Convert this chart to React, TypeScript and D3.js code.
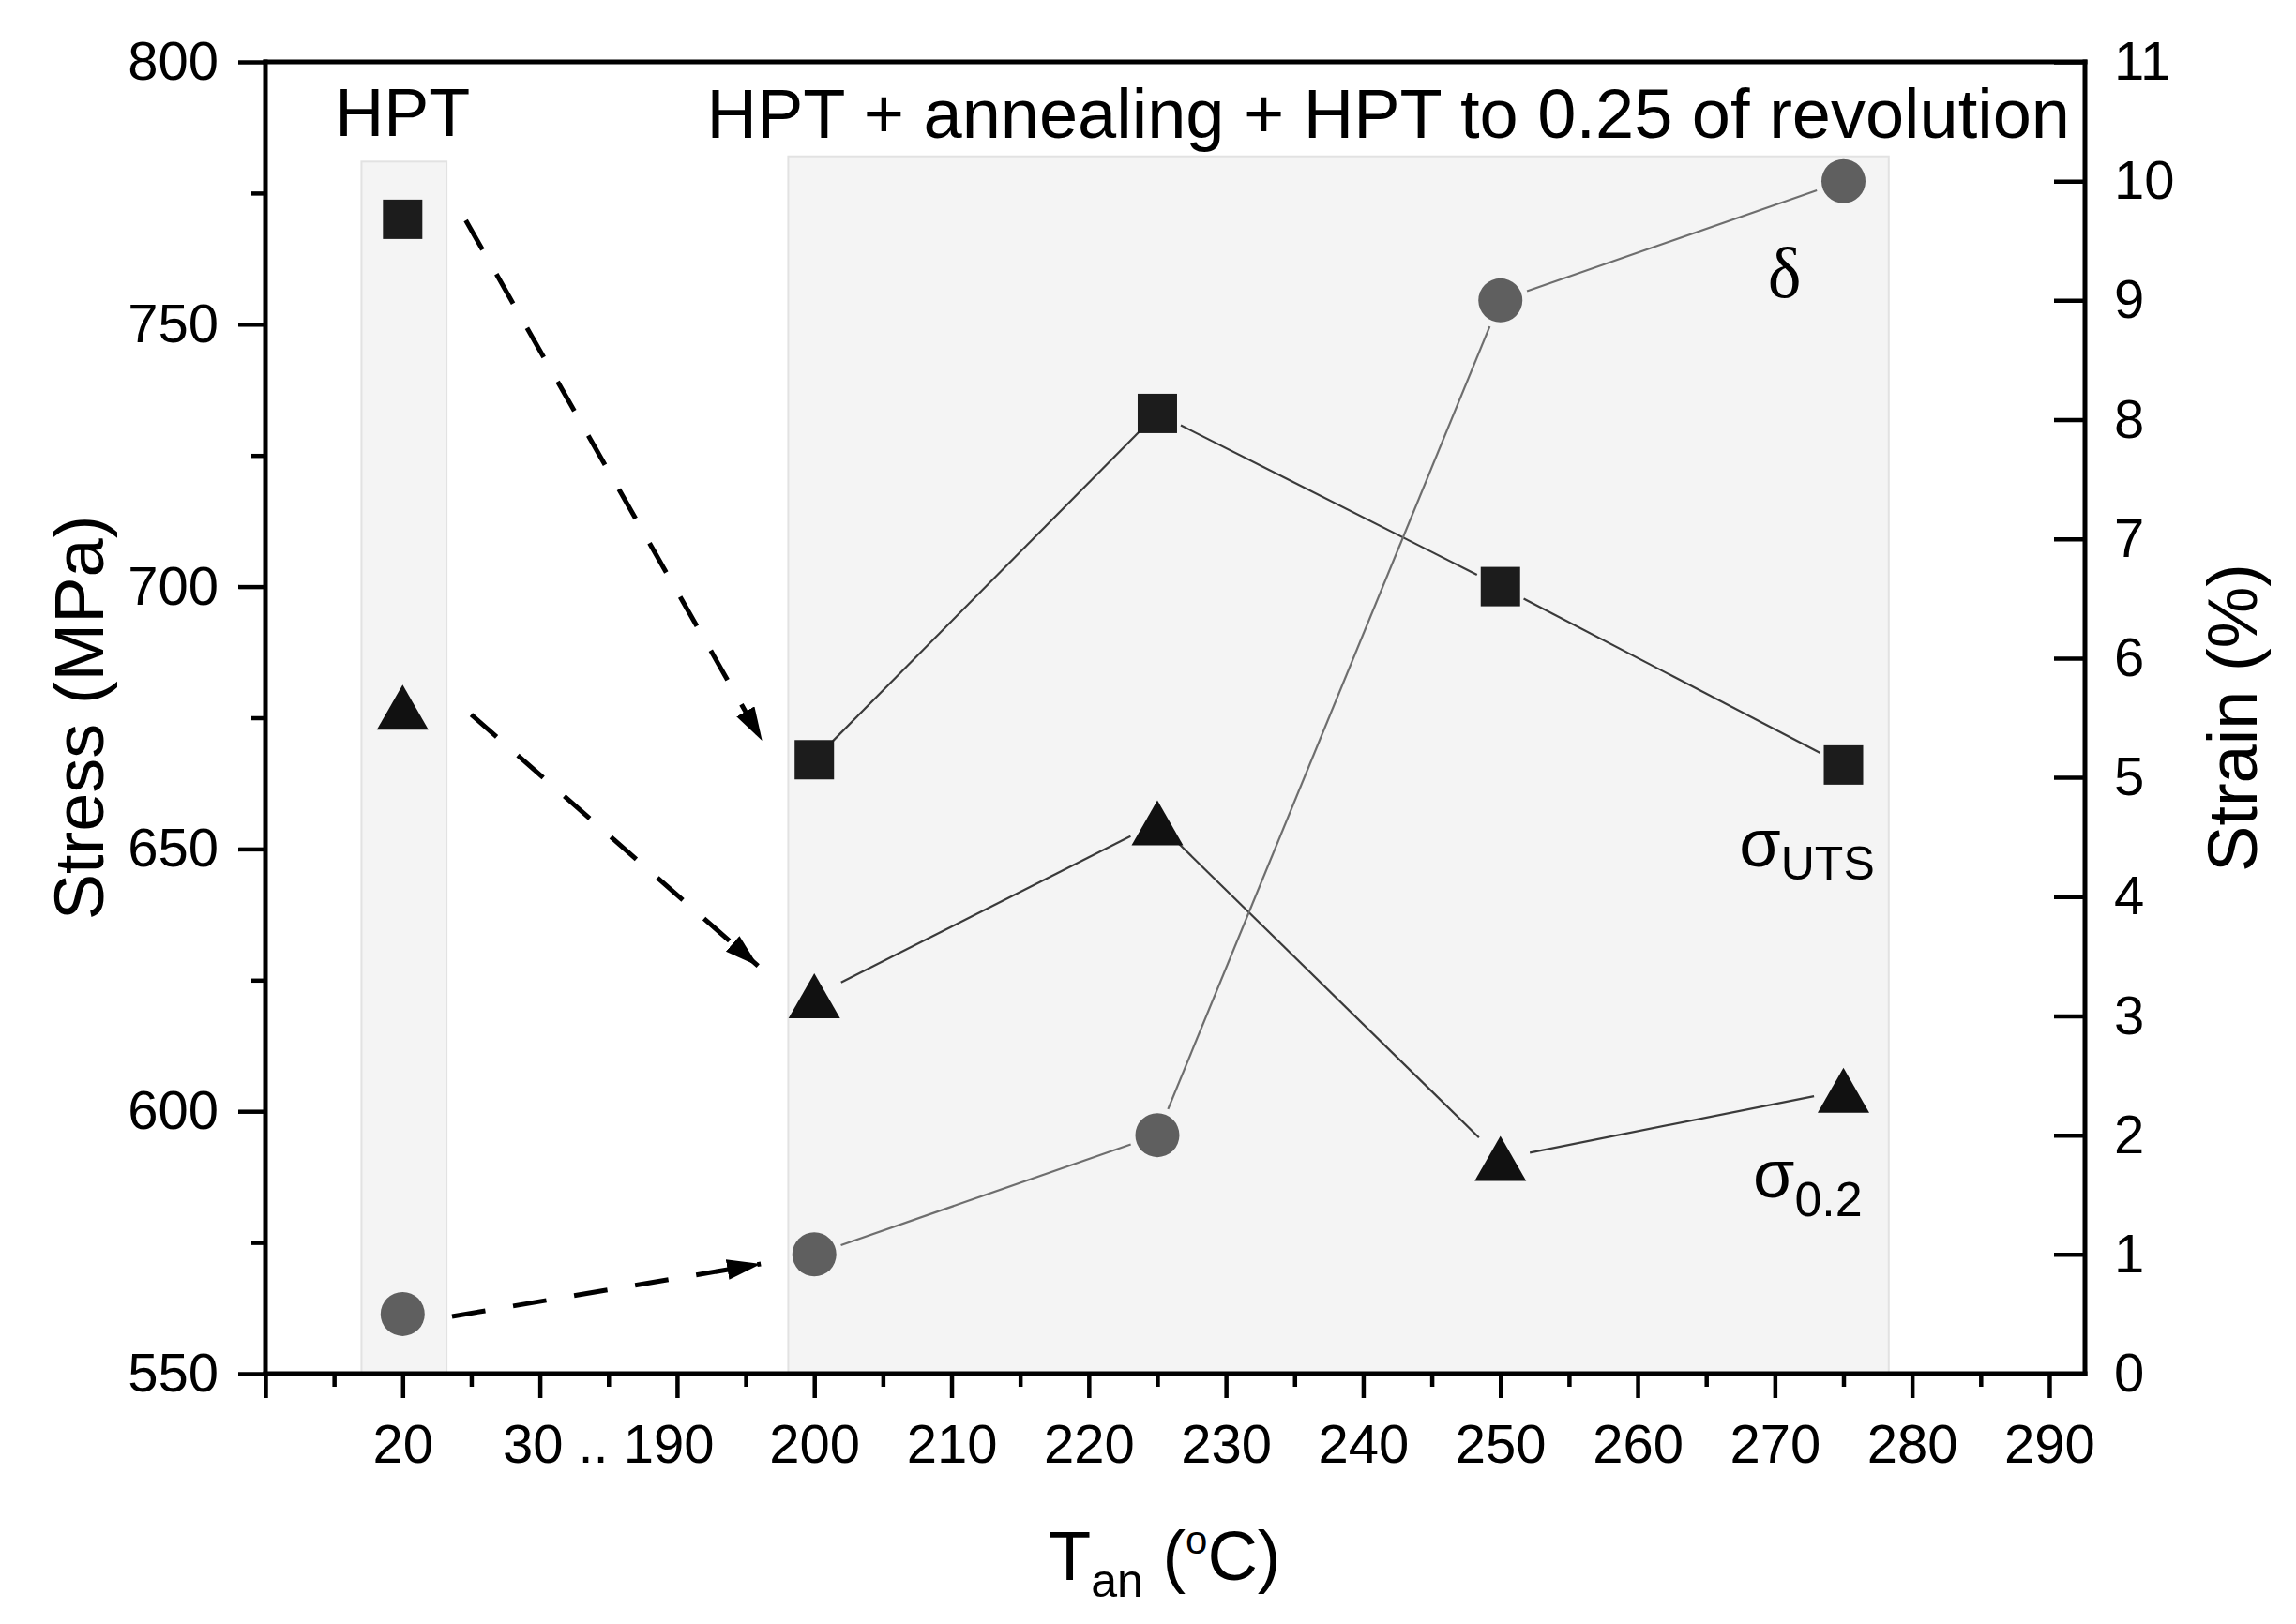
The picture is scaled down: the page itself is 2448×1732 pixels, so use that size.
import { useEffect, useRef } from 'react'
import * as d3 from 'd3'

// annealing temperature; the 30..190 range is collapsed on the axis
const temps = [20, 200, 225, 250, 275]
// sigma_UTS (MPa), squares
const utsValues = [770, 667, 733, 700, 666]
// sigma_0.2 (MPa), triangles
const yieldValues = [677, 622, 655, 591, 604]
// delta, elongation (%), circles
const strainValues = [0.5, 1.0, 2.0, 9.0, 10.0]

const stressTicks = [550, 600, 650, 700, 750, 800]
const stressMinorTicks = [575, 625, 675, 725, 775]
const strainTicks = [0, 1, 2, 3, 4, 5, 6, 7, 8, 9, 10, 11]
const tempTicks = [10, 20, 30, 190, 200, 210, 220, 230, 240, 250, 260, 270, 280, 290]
const tempTickLabels = ['', '20', '', '', '200', '210', '220', '230', '240', '250', '260', '270', '280', '290']
const tempMinorTicks = [15, 25, 110, 195, 205, 215, 225, 235, 245, 255, 265, 275, 285]

// shaded regions (temperature range, top in MPa)
const bands = [
  { t0: 17, t1: 23.2, top: 781 },
  { t0: 198.1, t1: 278.3, top: 782 },
]

// dashed arrows from the HPT state to the annealed state
const arrows = [
  { from: [24.6, 769.8], to: [196.2, 670.6], axis: 'stress' },
  { from: [25.0, 675.6], to: [195.9, 627.7], axis: 'stress' },
  { from: [23.6, 0.48], to: [196.1, 0.92], axis: 'strain' },
]

export default function App() {
  const svgRef = useRef<SVGSVGElement>(null)

  useEffect(() => {
    if (!svgRef.current) return
    const svg = d3.select(svgRef.current)
    svg.selectAll('*').remove()

    const width = 2448
    const height = 1732
    const margin = { top: 66, right: 225, bottom: 267, left: 283 }
    const left = margin.left
    const right = width - margin.right
    const top = margin.top
    const bottom = height - margin.bottom
    const unit = (right - left) / 13.26

    const x = d3.scaleLinear()
      .domain([10, 30, 190, 292.6])
      .range([left, left + 2 * unit, left + 3 * unit, right])
    const yStress = d3.scaleLinear().domain([550, 800]).range([bottom, top])
    const yStrain = d3.scaleLinear().domain([0, 11]).range([bottom, top])

    const font = "'Liberation Sans', Arial, sans-serif"
    const serif = "'Liberation Serif', 'Times New Roman', serif"

    svg.attr('viewBox', `0 0 ${width} ${height}`)

    // shaded regions
    svg.append('g')
      .selectAll('rect')
      .data(bands)
      .join('rect')
      .attr('x', d => x(d.t0))
      .attr('y', d => yStress(d.top))
      .attr('width', d => x(d.t1) - x(d.t0))
      .attr('height', d => bottom - yStress(d.top))
      .attr('fill', '#f4f4f4')
      .attr('stroke', '#e2e2e2')
      .attr('stroke-width', 2)

    const styleAxis = (g: any) => {
      g.select('.domain').remove()
      g.selectAll('line').attr('stroke', '#000').attr('stroke-width', 4.5)
      g.selectAll('text')
        .attr('font-family', font)
        .attr('font-size', 58)
        .attr('fill', '#000')
    }

    // left axis
    svg.append('g')
      .attr('transform', `translate(${left},0)`)
      .call(d3.axisLeft(yStress).tickValues(stressTicks).tickSize(29).tickPadding(21).tickFormat(d3.format('d')))
      .call(styleAxis)
    svg.append('g')
      .attr('transform', `translate(${left},0)`)
      .call(d3.axisLeft(yStress).tickValues(stressMinorTicks).tickSize(15).tickFormat(() => ''))
      .call(styleAxis)

    // bottom axis
    svg.append('g')
      .attr('transform', `translate(0,${bottom})`)
      .call(d3.axisBottom(x).tickValues(tempTicks).tickSize(26).tickPadding(28)
        .tickFormat((_d, i) => tempTickLabels[i]))
      .call(styleAxis)
    svg.append('g')
      .attr('transform', `translate(0,${bottom})`)
      .call(d3.axisBottom(x).tickValues(tempMinorTicks).tickSize(14).tickFormat(() => ''))
      .call(styleAxis)
    svg.append('text')
      .attr('x', x(110))
      .attr('y', bottom + 54)
      .attr('dy', '0.71em')
      .attr('text-anchor', 'middle')
      .attr('font-family', font)
      .attr('font-size', 58)
      .text('30 .. 190')

    // right axis (ticks point inward)
    svg.append('g')
      .attr('transform', `translate(${right},0)`)
      .call(d3.axisRight(yStrain).tickValues(strainTicks).tickSizeInner(-33).tickSizeOuter(0).tickPadding(31))
      .call(styleAxis)

    // frame
    const frame = svg.append('g').attr('stroke', '#000').attr('stroke-width', 5).attr('stroke-linecap', 'square')
    frame.append('line').attr('x1', left).attr('x2', right).attr('y1', top).attr('y2', top)
    frame.append('line').attr('x1', left).attr('x2', right).attr('y1', bottom).attr('y2', bottom)
    frame.append('line').attr('x1', left).attr('x2', left).attr('y1', top).attr('y2', bottom)
    frame.append('line').attr('x1', right).attr('x2', right).attr('y1', top).attr('y2', bottom)

    // connecting lines (annealed states only), with a small gap at the symbols
    const series = [
      { values: utsValues, y: yStress, color: '#3a3a3a', r: 22 },
      { values: yieldValues, y: yStress, color: '#3a3a3a', r: 26 },
      { values: strainValues, y: yStrain, color: '#6e6e6e', r: 24 },
    ]
    const lines = svg.append('g').attr('fill', 'none')
    series.forEach(s => {
      const pts = temps.map((t, i) => [x(t), s.y(s.values[i])]).slice(1)
      d3.pairs(pts).forEach(([a, b]) => {
        const dx = b[0] - a[0]
        const dy = b[1] - a[1]
        const len = Math.hypot(dx, dy)
        const g = s.r + 6
        lines.append('line')
          .attr('x1', a[0] + dx / len * g)
          .attr('y1', a[1] + dy / len * g)
          .attr('x2', b[0] - dx / len * g)
          .attr('y2', b[1] - dy / len * g)
          .attr('stroke', s.color)
          .attr('stroke-width', 2.2)
      })
    })

    // dashed arrows
    svg.append('defs').append('marker')
      .attr('id', 'arrowHead')
      .attr('markerUnits', 'userSpaceOnUse')
      .attr('markerWidth', 40)
      .attr('markerHeight', 24)
      .attr('refX', 36)
      .attr('refY', 11)
      .attr('orient', 'auto')
      .append('path')
      .attr('d', 'M0,0 L36,11 L0,22 Z')
      .attr('fill', '#000')

    svg.append('g')
      .selectAll('line')
      .data(arrows)
      .join('line')
      .attr('x1', d => x(d.from[0]))
      .attr('y1', d => (d.axis === 'stress' ? yStress : yStrain)(d.from[1]))
      .attr('x2', d => x(d.to[0]))
      .attr('y2', d => (d.axis === 'stress' ? yStress : yStrain)(d.to[1]))
      .attr('stroke', '#000')
      .attr('stroke-width', 5)
      .attr('stroke-dasharray', '36 30')
      .attr('marker-end', 'url(#arrowHead)')

    // symbols
    const sq = 42
    svg.append('g')
      .selectAll('rect')
      .data(temps)
      .join('rect')
      .attr('x', (t) => x(t) - sq / 2)
      .attr('y', (_t, i) => yStress(utsValues[i]) - sq / 2)
      .attr('width', sq)
      .attr('height', sq)
      .attr('fill', '#1c1c1c')

    const tw = 55
    const th = 48
    svg.append('g')
      .selectAll('path')
      .data(temps)
      .join('path')
      .attr('d', (t, i) => {
        const cx = x(t)
        const cy = yStress(yieldValues[i])
        return `M${cx},${cy - th / 2} L${cx + tw / 2},${cy + th / 2} L${cx - tw / 2},${cy + th / 2} Z`
      })
      .attr('fill', '#111')

    svg.append('g')
      .selectAll('circle')
      .data(temps)
      .join('circle')
      .attr('cx', t => x(t))
      .attr('cy', (_t, i) => yStrain(strainValues[i]))
      .attr('r', 23.5)
      .attr('fill', '#5f5f5f')

    // region labels
    svg.append('text')
      .attr('x', x(20))
      .attr('y', 145)
      .attr('text-anchor', 'middle')
      .attr('font-family', font)
      .attr('font-size', 72)
      .text('HPT')
    svg.append('text')
      .attr('x', right - 16)
      .attr('y', 147)
      .attr('text-anchor', 'end')
      .attr('font-family', font)
      .attr('font-size', 74)
      .text('HPT + annealing + HPT to 0.25 of revolution')

    // series labels
    svg.append('text')
      .attr('x', x(270.7))
      .attr('y', yStrain(9.03))
      .attr('text-anchor', 'middle')
      .attr('font-family', serif)
      .attr('font-size', 76)
      .text('δ')

    const uts = svg.append('text')
      .attr('x', x(267.4))
      .attr('y', yStress(646.7))
      .attr('font-family', font)
      .attr('font-size', 72)
    uts.append('tspan').text('σ')
    uts.append('tspan').attr('font-size', 50).attr('dy', 14).text('UTS')

    const ys = svg.append('text')
      .attr('x', x(268.4))
      .attr('y', yStress(583.6))
      .attr('font-family', font)
      .attr('font-size', 72)
    ys.append('tspan').text('σ')
    ys.append('tspan').attr('font-size', 52).attr('dy', 20).text('0.2')

    // axis titles
    svg.append('text')
      .attr('transform', `translate(110,${(top + bottom) / 2}) rotate(-90)`)
      .attr('text-anchor', 'middle')
      .attr('font-family', font)
      .attr('font-size', 74)
      .text('Stress (MPa)')

    svg.append('text')
      .attr('transform', `translate(2406,${(top + bottom) / 2}) rotate(-90)`)
      .attr('text-anchor', 'middle')
      .attr('font-family', font)
      .attr('font-size', 74)
      .text('Strain (%)')

    const xt = svg.append('text')
      .attr('x', 1118)
      .attr('y', 1685)
      .attr('font-family', font)
      .attr('font-size', 74)
    xt.append('tspan').text('T')
    xt.append('tspan').attr('font-size', 50).attr('dy', 18).text('an')
    xt.append('tspan').attr('dy', -18).text(' (')
    xt.append('tspan').attr('font-size', 42).attr('dy', -28).text('o')
    xt.append('tspan').attr('dy', 28).text('C)')
  }, [])

  return (
    <svg
      ref={svgRef}
      width={2448}
      height={1732}
      style={{ position: 'absolute', left: 0, top: 0, background: '#fff' }}
    />
  )
}
